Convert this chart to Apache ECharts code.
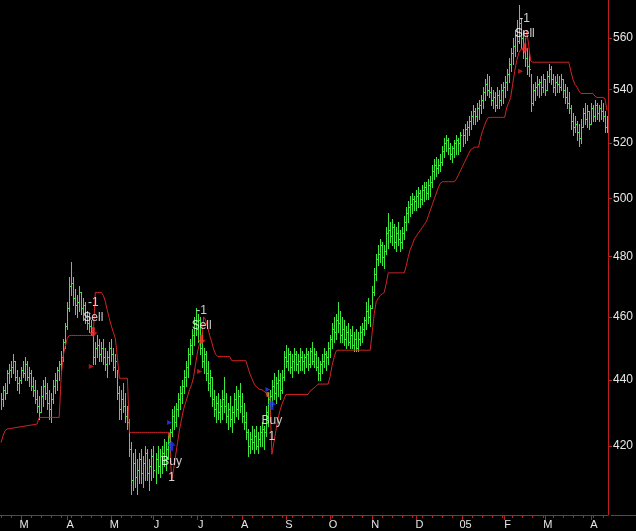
<!DOCTYPE html>
<html><head><meta charset="utf-8">
<script src="https://cdn.jsdelivr.net/npm/echarts@6/dist/echarts.min.js"></script>
<style>html,body{margin:0;padding:0;background:#000;}#c{width:636px;height:531px;}</style>
</head><body><div id="c"></div>
<script>
// ---- data ----
const firstDay = '2004-02-16';
const lastDay = '2005-04-13';
const monthLetters = ['J','F','M','A','M','J','J','A','S','O','N','D'];
const yTicks = [420,440,460,480,500,520,540,560];
const yMin = 400, yMax = 575.2;

const highs = [
436,438,439,443,445,446,448,446,443,441,
444,446,447,446,444,443,441,440,437,435,
438,440,441,439,437,436,440,442,444,446,
449,453,458,465,473,478,473,469,467,470,
468,466,465,462,461,459,455,452,454,453,
452,453,450,449,452,453,450,448,443,438,
437,439,436,432,428,421,418,419,416,418,
419,417,420,419,416,419,420,418,420,419,
420,422,421,423,425,431,432,433,436,438,
440,443,446,450,453,456,460,463,461,460,
455,450,449,446,443,441,437,435,436,434,
437,441,436,433,435,432,436,438,437,439,
436,433,430,425,424,426,425,426,424,426,
427,426,432,436,437,440,442,441,443,442,
443,449,451,450,449,448,450,449,448,450,
449,448,450,449,450,452,450,449,447,446,
448,450,449,452,454,458,460,461,465,462,
460,459,457,458,456,457,455,456,455,457,
458,460,465,466,464,470,476,481,484,486,
485,484,490,495,492,493,491,490,492,489,
490,494,497,499,501,502,501,503,504,503,
505,506,506,507,508,512,514,515,514,516,
519,522,523,522,520,519,521,523,522,524,
525,527,528,530,532,534,533,535,536,538,
541,544,546,545,541,540,539,541,540,542,
543,545,548,552,556,560,563,567,573,568,
563,560,556,555,546,542,543,545,544,545,
546,544,547,550,549,546,545,546,545,546,
544,542,541,539,534,531,530,528,527,529,
533,535,534,532,535,534,536,535,534,536,
535,532,530];

const lows = [
431,432,434,436,439,441,442,440,437,436,
439,441,440,440,438,437,435,433,430,428,
430,432,434,431,428,427,433,436,437,440,
443,446,450,456,462,467,464,461,460,462,
461,459,458,456,455,454,445,445,447,446,
446,445,443,441,445,446,443,441,434,428,
428,430,427,425,417,406,407,408,406,409,
409,408,410,410,407,410,411,409,412,411,
412,414,413,416,418,423,425,426,429,431,
433,436,438,441,445,448,451,454,452,448,
444,442,440,437,435,432,429,427,428,427,
428,430,427,425,426,424,427,429,428,430,
427,425,422,417,418,419,418,419,418,420,
420,419,423,426,428,432,434,433,435,434,
436,440,444,443,442,441,443,443,442,443,
443,442,444,443,444,445,444,443,440,440,
442,444,443,445,447,450,452,453,455,452,
452,451,450,451,450,450,449,449,449,451,
452,454,456,458,457,463,467,472,477,478,
477,476,481,483,485,484,483,482,484,482,
483,486,489,492,494,495,496,496,497,497,
498,499,500,500,501,504,507,508,509,510,
512,515,517,516,514,513,515,516,516,517,
519,520,521,523,525,527,527,528,529,531,
533,536,538,537,534,533,532,533,533,534,
535,537,540,543,547,550,553,555,558,556,
552,549,546,545,532,534,536,538,537,538,
539,538,540,543,542,539,538,539,539,540,
537,535,533,531,525,523,524,521,519,520,
526,527,526,525,527,528,528,529,528,529,
528,524,524];

const closes = [
434,437,436,442,443,444,446,441,439,440,
443,442,445,441,442,438,437,434,432,430,
435,438,436,433,431,434,438,440,443,445,
447,452,457,463,470,471,466,464,465,468,
463,464,460,458,457,455,447,450,451,448,
450,447,445,447,450,448,444,446,436,431,
434,432,429,427,419,410,415,411,413,416,
412,415,418,412,414,417,413,416,414,417,
418,416,419,421,424,429,427,431,434,436,
438,441,444,448,451,454,458,456,459,450,
446,448,442,439,441,434,431,433,430,432,
434,432,429,431,428,430,434,431,435,432,
429,427,424,420,422,421,423,420,422,424,
425,424,430,434,435,438,436,439,440,437,
441,447,446,448,444,446,448,445,446,447,
446,447,448,445,449,446,448,444,442,445,
446,448,447,450,453,456,455,459,458,454,
456,453,455,452,454,451,453,450,453,455,
456,459,462,460,463,468,474,479,481,484,
480,482,488,489,487,490,485,488,486,485,
488,492,495,497,498,500,499,501,502,500,
503,504,502,505,506,510,512,511,512,513,
517,520,521,518,516,518,520,521,520,523,
523,525,526,528,530,532,530,533,534,536,
539,542,540,539,536,537,534,538,536,540,
541,543,546,550,554,557,561,559,566,560,
555,552,549,548,535,540,541,542,543,541,
544,540,545,548,544,541,543,542,541,544,
540,537,535,533,528,526,527,524,522,526,
531,529,532,527,533,530,534,531,533,532,
530,526,527];

const stops = [
421,423,424.5,425,425.1,425.2,425.3,425.4,425.5,425.6,
425.7,425.8,425.9,426,426.1,426.2,426.3,426.4,426.5,428.5,
428.5,428.5,428.5,428.5,428.5,428.5,428.5,428.5,428.5,428.5,
441,447.5,450.5,453,454,454,454,454,454,454,
454,454,454,454,454,454,454,468,468,468,
468,467,465,462,459.5,457,455,453,447,440.5,
440.5,440.5,440.5,440.5,424,424,424,424,424,424,
424,424,424,424,424,424,424,424,424,424,
424,424,424,424,424,409.7,413,417,421,425,
428,431,433,435,437,438.5,441,445,449,451.5,
452,460,459,456.5,454,452,449.5,448,447.3,447.3,
447.3,447.3,447.3,447.3,447.3,446,446,446,446,446,
446,446,446,444,442,440.5,439,438,437.5,437,
437,436.5,436,435,434.5,417.5,421,424.5,428,430.5,
432.5,434,435.5,435.5,435.5,435.5,435.5,435.5,435.5,435.5,
435.5,435.5,435.5,435.5,436.5,437,437.5,438,438.7,438.7,
438.7,438.7,438.7,438.7,441,444.5,447,449,449.3,449.3,
449.3,449.3,449.3,449.3,449.3,449.3,449.3,449.3,449.3,449.3,
449.3,449.3,449.3,449.3,449.3,455,461,465,466,467,
467.5,468,471,474.5,474.5,474.5,474.5,474.5,474.5,474.5,
474.5,474.5,477,480,482.5,484,486,487,488,489,
490,491,492,494,496,498,500,502,504,505.5,
506,506,506,506,506,506,506,507,508.5,510,
511.5,513,514.5,516,517.5,518,518.5,518.5,518.5,522,
524.5,526.5,528.5,529.5,529.5,529.5,529.5,529.5,529.5,529.5,
529.5,529.5,533,535,537,542,547,551,554,555.5,
556,556,563,557,551,550.5,550.5,550.5,550.5,550.5,
550.5,550.5,550.5,550.5,550.5,550.5,550.5,550.5,550.5,550.5,
550.5,550.5,550.5,550.5,547,544,542,541,539.5,538.5,
538.5,538.5,538.5,538.5,538.5,538.5,537.5,537,537,537,
537,536.5,532];

const sellIdx = [46, 100, 261];
const sellPrice = [455, 452.6, 556];
const buyIdx = [85, 135];
const buyPrice = [420, 432.3];
// small exit/entry ticks near the signals
const exitTickIdx = [45, 99, 259];
const exitTickPrice = [444.2, 442.6, 547];
const entryTickIdx = [84, 133];
const entryTickPrice = [427, 437];
const orangeIdx = [84, 133];
const orangePrice = [423, 435.5];

// ---- build ----
function weekdays(s, e) {
  const out = [];
  let d = new Date(s + 'T00:00:00Z');
  const end = new Date(e + 'T00:00:00Z');
  while (d <= end) {
    const w = d.getUTCDay();
    if (w > 0 && w < 6) out.push(d.toISOString().slice(0, 10));
    d = new Date(d.getTime() + 86400000);
  }
  return out;
}
const dates = weekdays(firstDay, lastDay);
const isMonthStart = (i) => i > 0 && dates[i].slice(5, 7) !== dates[i - 1].slice(5, 7);
const isMonday = (i) => new Date(dates[i] + 'T00:00:00Z').getUTCDay() === 1;
const L = Math.log;

const GREEN = '#3ce83c';
const RED = '#d42424';
const AXIS = '#c01c1c';
const FONT = 'Liberation Sans, Arial, sans-serif';

const barData = highs.map((h, i) => [i, L(h), L(lows[i]), L(closes[i])]);
const stopData = stops.map(v => L(v));
const pairs = (ix, px) => ix.map((i, k) => [i, L(px[k])]);

const chart = echarts.init(document.getElementById('c'), null, { renderer: 'canvas' });
chart.setOption({
  backgroundColor: '#000',
  animation: false,
  tooltip: { show: false },
  grid: { left: 0, right: 25, top: 0, bottom: 16, containLabel: false },
  xAxis: [{
    type: 'category', data: dates, position: 'bottom', boundaryGap: true,
    axisLine: { show: true, lineStyle: { color: AXIS, width: 1 } },
    axisTick: { show: true, alignWithLabel: true, interval: (i) => isMonday(i), length: 3, lineStyle: { color: AXIS } },
    axisLabel: {
      show: true, interval: (i) => isMonthStart(i), color: '#e6e6e6', fontSize: 11,
      fontFamily: FONT, margin: 4, padding: [0, 0, 0, 6],
      formatter: (v) => { const m = +v.slice(5, 7); return m === 1 ? v.slice(2, 4) : monthLetters[m - 1]; }
    },
    splitLine: { show: false }
  }, {
    type: 'category', data: dates, position: 'bottom', boundaryGap: true,
    axisLine: { show: false },
    axisTick: { show: true, alignWithLabel: true, interval: (i) => isMonthStart(i), length: 5, lineStyle: { color: AXIS } },
    axisLabel: { show: false },
    splitLine: { show: false }
  }],
  yAxis: {
    type: 'value', position: 'right', min: L(yMin), max: L(yMax), scale: true,
    axisLine: { show: true, lineStyle: { color: AXIS, width: 1 } },
    axisTick: { show: true, length: 4, customValues: yTicks.map(L), lineStyle: { color: AXIS } },
    axisLabel: {
      show: true, customValues: yTicks.map(L), color: '#e6e6e6', fontSize: 12, margin: 5,
      fontFamily: FONT,
      formatter: (v) => String(Math.round(Math.exp(v)))
    },
    splitLine: { show: false }
  },
  graphic: [{
    type: 'line', shape: { x1: 611, y1: 515.5, x2: 636, y2: 515.5 },
    style: { stroke: AXIS, lineWidth: 1 }, silent: true
  }],
  series: [{
    type: 'custom', name: 'bars', data: barData, clip: true, silent: true,
    encode: { x: 0, y: [1, 2, 3] },
    renderItem: (params, api) => {
      const i = api.value(0);
      const pH = api.coord([i, api.value(1)]);
      const pL = api.coord([i, api.value(2)]);
      const pC = api.coord([i, api.value(3)]);
      const x = Math.round(pH[0]);
      const yT = Math.round(pH[1]);
      const yB = Math.round(pL[1]);
      return {
        type: 'group', children: [
          { type: 'rect', shape: { x: x, y: yT, width: 1, height: Math.max(1, yB - yT + 1) }, style: { fill: GREEN, stroke: null } },
          { type: 'rect', shape: { x: x + 1, y: Math.round(pC[1]), width: 1, height: 1 }, style: { fill: GREEN, stroke: null } }
        ]
      };
    }
  }, {
    type: 'line', name: 'stop', data: stopData, symbol: 'none', z: 3, silent: true,
    lineStyle: { color: RED, width: 1 }
  }, {
    type: 'scatter', name: 'exitTicks', data: pairs(exitTickIdx, exitTickPrice), z: 4, silent: true,
    symbol: 'triangle', symbolRotate: -90, symbolSize: [5, 5], itemStyle: { color: '#e02020' }
  }, {
    type: 'scatter', name: 'entryTicks', data: pairs(entryTickIdx, entryTickPrice), z: 4, silent: true,
    symbol: 'triangle', symbolRotate: -90, symbolSize: [5, 5], itemStyle: { color: '#2a3cff' }
  }, {
    type: 'scatter', name: 'orange', data: pairs(orangeIdx, orangePrice), z: 4, silent: true,
    symbol: 'rect', symbolSize: [3, 5], itemStyle: { color: '#c87830' }
  }, {
    type: 'scatter', name: 'sell', data: pairs(sellIdx, sellPrice), z: 5, silent: true,
    symbol: 'path://M3,0 L7,0 L7,5 L10,5 L5,10 L0,5 L3,5 Z', symbolSize: [8, 10],
    itemStyle: { color: '#ff2a2a' },
    label: { show: true, position: 'top', distance: 2, formatter: '-1\nSell', color: '#ffffff', fontSize: 12, lineHeight: 15, fontFamily: FONT }
  }, {
    type: 'scatter', name: 'buy', data: pairs(buyIdx, buyPrice), z: 5, silent: true,
    symbol: 'path://M5,0 L10,5 L7,5 L7,10 L3,10 L3,5 L0,5 Z', symbolSize: [8, 10],
    itemStyle: { color: '#2238ff' },
    label: { show: true, position: 'bottom', distance: 3, formatter: 'Buy\n1', color: '#ffffff', fontSize: 12, lineHeight: 16, fontFamily: FONT }
  }]
});
</script>
</body></html>
